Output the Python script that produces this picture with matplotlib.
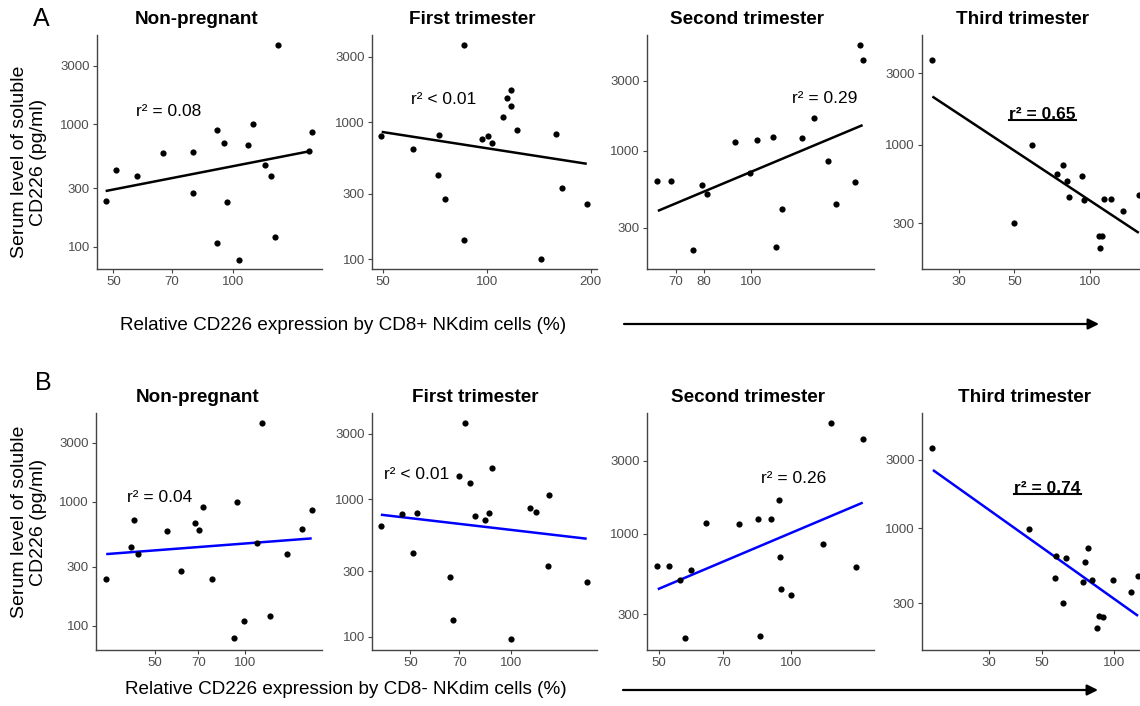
import matplotlib
matplotlib.use("Agg")
import matplotlib.pyplot as plt
from matplotlib.ticker import FixedLocator, NullLocator, FixedFormatter
from matplotlib.patches import FancyArrowPatch
from matplotlib.lines import Line2D
from matplotlib.transforms import IdentityTransform

plt.rcParams['font.family'] = ['Liberation Sans', 'DejaVu Sans']

W, H = 1140, 706

titles = ["Non-pregnant", "First trimester", "Second trimester", "Third trimester"]

# panel A (CD8+ NKdim), x = relative CD226 expression, y = serum sCD226 (pg/ml)
a_np_x = [47.8, 50.8, 57.3, 66.5, 79.1, 79.1, 90.9, 94.7, 96.3, 90.9, 103.2, 109.0, 111.7, 120.2, 124.0, 127.4, 129.6, 155.0, 157.1]
a_np_y = [236, 426, 376, 579, 594, 273, 905, 708, 233, 108, 78.3, 682, 1000, 465, 376, 120, 4452, 605, 860]
a_t1_x = [49.5, 61.4, 72.8, 72.5, 75.6, 86.2, 86.2, 97.2, 101.1, 103.6, 111.7, 114.8, 117.9, 117.9, 122.1, 143.9, 158.4, 165.6, 194.7]
a_t1_y = [799, 639, 808, 413, 276, 3668, 137, 756, 795, 710, 1088, 1505, 1731, 1316, 874, 99.4, 817, 332, 252]
a_t2_x = [64.1, 68.3, 75.8, 79.2, 81.2, 92.4, 99.5, 102.8, 110.7, 112.1, 115.3, 127.2, 134.6, 143.5, 148.8, 162.8, 167.2, 169.0]
a_t2_y = [626, 626, 213, 582, 511, 1145, 705, 1181, 1238, 221, 400, 1225, 1658, 851, 437, 610, 5242, 4168]
a_t3_x = [23.5, 49.7, 58.9, 74.1, 78.1, 80.7, 82.7, 93.2, 94.6, 108.3, 109.9, 112.0, 114.1, 120.9, 135.8, 157.2]
a_t3_y = [3667, 300, 990, 641, 732, 575, 448, 615, 430, 245, 205, 247, 437, 432, 363, 464]

# panel B (CD8- NKdim)
b_np_x = [34.4, 41.6, 42.7, 44.1, 55.1, 61.2, 68.4, 70.2, 72.7, 77.6, 92.3, 94.5, 99.7, 109.7, 114.0, 121.8, 138.5, 155.9, 167.5]
b_np_y = [239, 428, 707, 376, 580, 276, 677, 595, 900, 236, 79.1, 1000, 108.4, 467, 4310, 119.7, 376, 606, 862]
b_t1_x = [40.8, 47.3, 52.3, 51.0, 65.7, 67.2, 69.7, 73.0, 75.4, 78.2, 83.6, 85.9, 87.5, 99.7, 114.0, 118.7, 129.6, 128.7, 169.1]
b_t1_y = [636, 786, 800, 409, 273, 133, 1479, 3595, 1308, 752, 707, 795, 1691, 96.7, 869, 813, 1081, 329, 250]
b_t2_x = [49.5, 52.8, 55.8, 59.0, 57.4, 64.0, 76.1, 84.1, 84.9, 90.0, 93.9, 94.4, 94.9, 100.0, 117.7, 122.8, 140.4, 145.1]
b_t2_y = [615, 622, 504, 582, 209, 1174, 1162, 1246, 215, 1246, 1675, 704, 436, 398, 856, 5295, 612, 4185]
b_t3_x = [17.5, 44.3, 56.6, 57.2, 61.2, 62.9, 74.1, 75.7, 77.9, 81.2, 84.7, 86.9, 90.3, 99.4, 118.1, 125.9]
b_t3_y = [3635, 995, 448, 645, 300, 621, 422, 579, 729, 434, 201, 246, 242, 439, 361, 465]

# regression line end points
a_fit_x = [[47.8, 156.2], [49.7, 194.7], [64.3, 169.0], [23.6, 156.3]]
a_fit_y = [[285, 605], [850, 497], [390, 1494], [2100, 258]]
b_fit_x = [[34.4, 167.5], [40.8, 168.4], [49.7, 145.1], [17.6, 125.9]]
b_fit_y = [[378, 506], [773, 517], [436, 1601], [2553, 245]]

a_r2 = ["r² = 0.08", "r² < 0.01", "r² = 0.29", "r² = 0.65"]
b_r2 = ["r² = 0.04", "r² < 0.01", "r² = 0.26", "r² = 0.74"]
r2_signif = [False, False, False, True]

a_xticks = [[50, 70, 100], [50, 100, 200], [70, 80, 100], [30, 50, 100]]
b_xticks = [[50, 70, 100], [50, 70, 100], [50, 70, 100], [30, 50, 100]]
a_yticks = [[100, 300, 1000, 3000], [100, 300, 1000, 3000], [300, 1000, 3000], [300, 1000, 3000]]
b_yticks = [[100, 300, 1000, 3000], [100, 300, 1000, 3000], [300, 1000, 3000], [300, 1000, 3000]]

# layout (pixels) and axis ranges
a_cols = [(96.7, 321.7), (371.7, 596.7), (646.7, 873.6), (921.7, 1140)]
b_cols = [(96.0, 321.7), (371.7, 596.7), (646.7, 873.7), (921.7, 1140)]
a_rows = (35, 269)
b_rows = (412.7, 650)
a_xlim = [(45.4, 166.4), (46.5, 208), (61.0, 178), (21.4, 158)]
a_ylim = [(65.7, 5370), (84.6, 4340), (157, 6125), (148, 5410)]
b_xlim = [(31.8, 180.9), (38.3, 180.4), (46.9, 153.7), (15.8, 128.3)]
b_ylim = [(63.7, 5221), (80.0, 4276), (175, 6184), (141.6, 6412)]
a_r2_pos = [(0.319, 0.672), (0.319, 0.723), (0.786, 0.730), (0.554, 0.661)]
b_r2_pos = [(0.284, 0.643), (0.2, 0.740), (0.646, 0.723), (0.577, 0.681)]
a_title_x = [197, 472, 747, 1023]
b_title_x = [198, 475, 748, 1025]

fig = plt.figure(figsize=(W / 100, H / 100), dpi=100)
fig.patch.set_facecolor('white')

axcol = '#444444'
underlined = []


def panel(cols, rows, xlim, ylim, xs, ys, fx, fy, xt, yt, line_col):
    l, r = cols
    t, b = rows
    ax = fig.add_axes([l / W, 1 - b / H, (r - l) / W, (b - t) / H])
    ax.scatter(xs, ys, s=20, color='black', linewidths=0, zorder=3)
    ax.plot(fx, fy, color=line_col, lw=1.8, solid_capstyle='butt', zorder=2)
    ax.set_xscale('log')
    ax.set_yscale('log')
    ax.set_xlim(*xlim)
    ax.set_ylim(*ylim)
    ax.xaxis.set_major_locator(FixedLocator(xt))
    ax.xaxis.set_major_formatter(FixedFormatter([str(v) for v in xt]))
    ax.yaxis.set_major_locator(FixedLocator(yt))
    ax.yaxis.set_major_formatter(FixedFormatter([str(v) for v in yt]))
    ax.xaxis.set_minor_locator(NullLocator())
    ax.yaxis.set_minor_locator(NullLocator())
    for s in ['top', 'right']:
        ax.spines[s].set_visible(False)
    for s in ['left', 'bottom']:
        ax.spines[s].set_color(axcol)
        ax.spines[s].set_linewidth(1.0)
    ax.tick_params(length=3, width=0.8, color=axcol, labelcolor='#4d4d4d',
                   labelsize=9.5, pad=2)
    return ax


rows_spec = [
    (a_cols, a_rows, a_xlim, a_ylim,
     [(a_np_x, a_np_y), (a_t1_x, a_t1_y), (a_t2_x, a_t2_y), (a_t3_x, a_t3_y)],
     a_fit_x, a_fit_y, a_xticks, a_yticks, a_r2, a_r2_pos, a_title_x, 19, 'black'),
    (b_cols, b_rows, b_xlim, b_ylim,
     [(b_np_x, b_np_y), (b_t1_x, b_t1_y), (b_t2_x, b_t2_y), (b_t3_x, b_t3_y)],
     b_fit_x, b_fit_y, b_xticks, b_yticks, b_r2, b_r2_pos, b_title_x, 398, '#0000ff'),
]

for (cols, rows, xlims, ylims, data, fxs, fys, xts, yts, r2s, r2pos, tx, ty, lc) in rows_spec:
    for i in range(4):
        ax = panel(cols[i], rows, xlims[i], ylims[i], data[i][0], data[i][1],
                   fxs[i], fys[i], xts[i], yts[i], lc)
        if r2_signif[i]:
            txt = ax.text(r2pos[i][0], r2pos[i][1], r2s[i], transform=ax.transAxes,
                          ha='center', va='center', fontsize=12.5, fontweight='bold')
            underlined.append(txt)
        else:
            ax.text(r2pos[i][0], r2pos[i][1], r2s[i], transform=ax.transAxes,
                    ha='center', va='center', fontsize=12.5)
        fig.text(tx[i] / W, 1 - ty / H, titles[i], ha='center', va='center',
                 fontsize=13.6, fontweight='bold')

# panel letters
fig.text(41 / W, 1 - 19 / H, "A", ha='center', va='center', fontsize=18)
fig.text(43 / W, 1 - 383 / H, "B", ha='center', va='center', fontsize=18)

# y labels
for yc in [162, 522]:
    fig.text(29 / W, 1 - yc / H, "Serum level of soluble\nCD226 (pg/ml)", rotation=90,
             ha='center', va='center', fontsize=14, multialignment='center',
             linespacing=1.1)

# x labels and arrows
fig.text(343 / W, 1 - 325 / H, "Relative CD226 expression by CD8+ NKdim cells (%)",
         ha='center', va='center', fontsize=13.6)
fig.text(346 / W, 1 - 690 / H, "Relative CD226 expression by CD8- NKdim cells (%)",
         ha='center', va='center', fontsize=13.6)
for (x0, x1, yy) in [(624, 1099, 324), (623, 1098, 690)]:
    fig.add_artist(FancyArrowPatch((x0 / W, 1 - yy / H), (x1 / W, 1 - yy / H),
                                   transform=fig.transFigure, arrowstyle='-|>',
                                   mutation_scale=16, lw=1.6, color='black',
                                   shrinkA=0, shrinkB=0))

# underline the significant r2 values
fig.canvas.draw()
rend = fig.canvas.get_renderer()
for txt in underlined:
    bb = txt.get_window_extent(rend)
    fig.add_artist(Line2D([bb.x0, bb.x1], [bb.y0 + 1.5, bb.y0 + 1.5],
                          transform=IdentityTransform(), color='black', lw=1.5))

fig.savefig("out.png", dpi=100)
